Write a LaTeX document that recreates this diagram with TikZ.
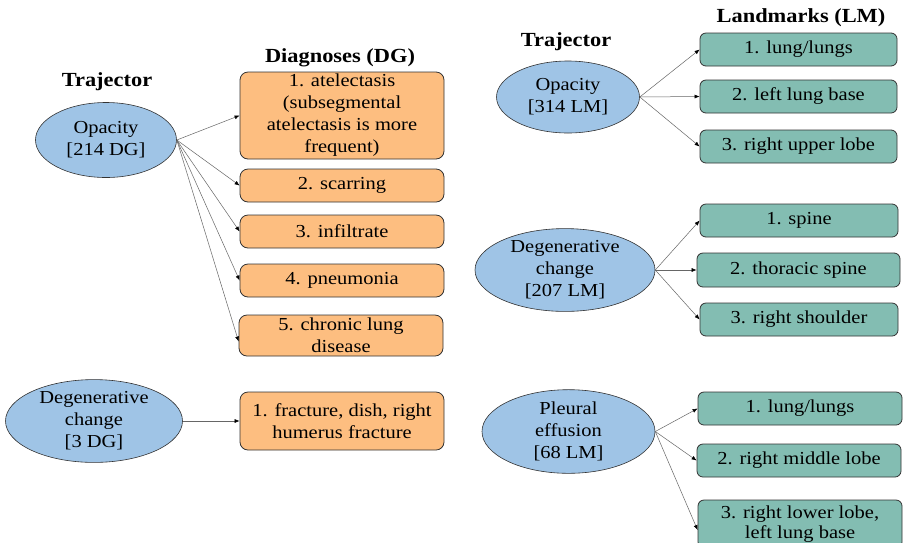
\documentclass[tikz,border=0pt]{standalone}
\usepackage{fontspec}
\setmainfont{Liberation Serif}[FakeStretch=1.12]
\usetikzlibrary{shapes.geometric,arrows.meta}
\definecolor{eblue}{RGB}{159,196,230}
\definecolor{dgor}{RGB}{253,190,128}
\definecolor{lmteal}{RGB}{131,189,178}
\tikzset{
  traj/.style={ellipse,draw=black!80,line width=0.6pt,fill=eblue,inner sep=0pt,align=center,font=\fontsize{18.3}{22}\selectfont},
  dgbox/.style={rectangle,rounded corners=8pt,draw=black!80,line width=0.8pt,fill=dgor,inner sep=0pt,align=center,font=\fontsize{18.3}{22}\selectfont},
  lmbox/.style={rectangle,rounded corners=6pt,draw=black!80,line width=0.8pt,fill=lmteal,inner sep=0pt,align=center,font=\fontsize{18.3}{22}\selectfont},
  head/.style={font=\bfseries\fontsize{20}{22}\selectfont,inner sep=0pt},
  arr/.style={draw=black!60,line width=0.5pt,-{Latex[length=5pt,width=4pt,black]}}
}
\begin{document}
\begin{tikzpicture}[x=1pt,y=-1pt]
\useasboundingbox[fill=white] (0,0) rectangle (904,542);
\begin{scope}
\clip (0,0) rectangle (904,542);
% ---------- left panel ----------
\node[head] (h1) at (107,82) {Trajector};
\node[head] (h2) at (340,58) {Diagnoses (DG)};
\node[traj,minimum width=141pt,minimum height=75pt] (op1) at (106,140) {Opacity\\{[214 DG]}};
\node[dgbox,minimum width=204pt,minimum height=87pt] (d1) at (342,115.5) {1. atelectasis\\(subsegmental\\atelectasis is more\\frequent)};
\node[dgbox,minimum width=204pt,minimum height=33pt] (d2) at (342,185.5) {2. scarring};
\node[dgbox,minimum width=204pt,minimum height=33pt] (d3) at (342,231.5) {3. infiltrate};
\node[dgbox,minimum width=204pt,minimum height=33pt] (d4) at (342,280.5) {4. pneumonia};
\node[dgbox,minimum width=204pt,minimum height=41pt] (d5) at (341,335.5) {5. chronic lung\\disease};
\node[traj,minimum width=177pt,minimum height=82pt] (dc1) at (94,421) {Degenerative\\change\\{[3 DG]}};
\node[dgbox,minimum width=204pt,minimum height=58pt] (d6) at (342,421) {1. fracture, dish, right\\humerus fracture};
\draw[arr] (op1.east) -- (d1.west);
\draw[arr] (op1.east) -- (d2.west);
\draw[arr] (op1.east) -- (d3.west);
\draw[arr] (op1.east) -- (d4.west);
\draw[arr] (op1.east) -- ([yshift=-6pt]d5.west);
\draw[arr] (dc1.east) -- (d6.west);
% ---------- right panel ----------
\node[head] (h3) at (566,42) {Trajector};
\node[head] (h4) at (801,18) {Landmarks (LM)};
\node[traj,minimum width=143pt,minimum height=72pt] (op2) at (568,97) {Opacity\\{[314 LM]}};
\node[lmbox,minimum width=197pt,minimum height=33pt] (l1) at (798.5,49.5) {1. lung/lungs};
\node[lmbox,minimum width=197pt,minimum height=33pt] (l2) at (798.5,96.5) {2. left lung base};
\node[lmbox,minimum width=197pt,minimum height=33pt] (l3) at (798.5,146.5) {3. right upper lobe};
\draw[arr] (op2.east) -- (l1.west);
\draw[arr] (op2.east) -- (l2.west);
\draw[arr] (op2.east) -- (l3.west);
\node[traj,minimum width=180pt,minimum height=76pt] (dc2) at (565,270) {Degenerative\\change\\{[207 LM]}};
\node[lmbox,minimum width=198pt,minimum height=33pt] (l4) at (799,220.5) {1. spine};
\node[lmbox,minimum width=203pt,minimum height=34pt] (l5) at (798.5,270) {2. thoracic spine};
\node[lmbox,minimum width=198pt,minimum height=33pt] (l6) at (799,319.5) {3. right shoulder};
\draw[arr] (dc2.east) -- (l4.west);
\draw[arr] (dc2.east) -- (l5.west);
\draw[arr] (dc2.east) -- (l6.west);
\node[traj,minimum width=173pt,minimum height=77pt] (pe) at (568.5,431.5) {Pleural\\effusion\\{[68 LM]}};
\node[lmbox,minimum width=204pt,minimum height=33pt] (l7) at (800,408.5) {1. lung/lungs};
\node[lmbox,minimum width=204pt,minimum height=33pt] (l8) at (799,460.5) {2. right middle lobe};
\node[lmbox,minimum width=204pt,minimum height=48pt,font=\fontsize{18.3}{20}\selectfont] (l9) at (800,524) {3. right lower lobe,\\left lung base};
\draw[arr] (pe.east) -- ([yshift=-6pt]l9.west);
\draw[arr] (pe.east) -- (l7.west);
\draw[arr] (pe.east) -- (l8.west);
\end{scope}
\end{tikzpicture}
\end{document}
